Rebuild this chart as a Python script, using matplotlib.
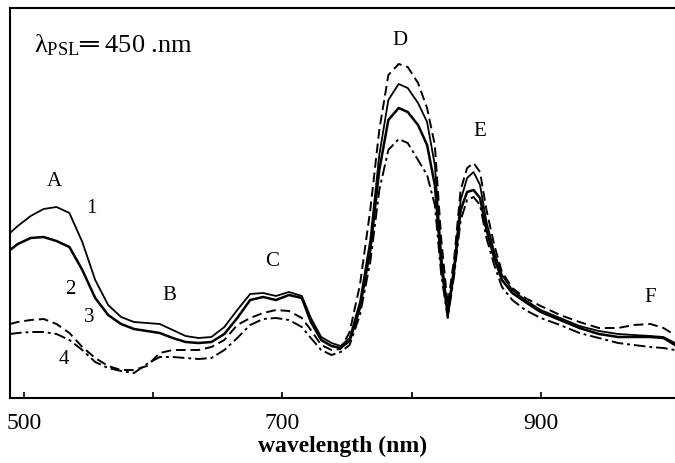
import matplotlib
matplotlib.use("Agg")
import matplotlib.pyplot as plt

plt.rcParams['font.family'] = ['Liberation Serif', 'DejaVu Serif']
plt.rcParams['mathtext.fontset'] = 'custom'
plt.rcParams['mathtext.rm'] = 'Liberation Serif'
plt.rcParams['mathtext.it'] = 'Liberation Serif:italic'

# wavelength grid (nm)
wavelength = [489, 495, 505, 515, 525, 535, 545, 555, 565, 575,
              585, 595, 605, 615, 625, 635, 645, 655, 665, 675,
              685, 695, 705, 715, 722, 730, 738, 745, 752, 760,
              768, 775, 782, 790, 797, 805, 812, 818, 823, 828,
              833, 838, 843, 848, 853, 858, 864, 870, 878, 888,
              900, 915, 930, 945, 960, 972, 985, 995, 1004]

# PSL intensity, arbitrary units
curve1 = [165, 172, 182, 189, 191, 185, 156, 118, 93, 81,
          76, 75, 74, 68, 62, 60, 61, 71, 88, 104,
          105, 102, 106, 102, 80, 61, 55, 52, 60, 96,
          158, 243, 298, 314, 310, 295, 276, 233, 143, 86,
          133, 198, 220, 226, 213, 176, 146, 123, 108, 98,
          88, 80, 72, 67, 64, 63, 62, 61, 55]
curve2 = [148, 154, 160, 161, 157, 151, 128, 100, 83, 74,
          69, 67, 65, 60, 56, 55, 56, 64, 80, 98,
          101, 98, 103, 100, 76, 58, 52, 50, 57, 90,
          148, 228, 278, 290, 286, 273, 253, 213, 133, 83,
          128, 188, 206, 208, 200, 168, 140, 118, 105, 96,
          86, 78, 70, 64, 61, 61, 61, 60, 53]
curve3 = [74, 76, 78, 79, 74, 65, 51, 40, 32, 28,
          28, 32, 45, 48, 48, 48, 51, 58, 73, 80,
          85, 88, 87, 80, 68, 53, 48, 49, 66, 113,
          188, 268, 323, 334, 331, 315, 290, 253, 158, 93,
          140, 208, 230, 235, 226, 188, 153, 126, 110, 100,
          92, 83, 76, 70, 70, 73, 74, 70, 63]
curve4 = [64, 65, 66, 66, 64, 58, 48, 36, 30, 27,
          25, 34, 41, 41, 40, 39, 40, 48, 60, 73,
          79, 80, 78, 71, 60, 48, 43, 46, 53, 83,
          136, 208, 248, 259, 255, 238, 223, 193, 123, 80,
          123, 178, 198, 201, 193, 160, 133, 111, 98, 88,
          80, 73, 65, 60, 55, 53, 51, 50, 48]

tick_pos = [500, 600, 700, 800, 900]
tick_labels = ['500', '', '700', '', '900']

peak_names = ['A', 'B', 'C', 'D', 'E', 'F']
peak_x = [523, 612, 692, 791, 853, 985]
peak_y = [216, 102, 136, 358, 267, 101]

curve_names = ['1', '2', '3', '4']
curve_x = [552, 536, 550, 531]
curve_y = [190, 108, 80, 38]

fig = plt.figure(figsize=(6.75, 4.63), dpi=100)
ax = fig.add_axes([10 / 675, 65 / 463, 665 / 675, 390 / 463])

ax.plot(wavelength, curve1, color='black', lw=1.3)
ax.plot(wavelength, curve2, color='black', lw=1.8)
ax.plot(wavelength, curve3, color='black', lw=1.4, dashes=(5, 2.5))
ax.plot(wavelength, curve4, color='black', lw=1.4, dashes=(6, 2, 1.5, 2))

for name, x, y in zip(peak_names, peak_x, peak_y):
    ax.text(x, y, name, fontsize=15, ha='center', va='center')
for name, x, y in zip(curve_names, curve_x, curve_y):
    ax.text(x, y, name, fontsize=15, ha='center', va='center')

ax.text(0.036, 0.905, r'λ$_{\mathrm{PSL}}$═ 450 .nm', transform=ax.transAxes,
        fontsize=19, ha='left', va='center')

ax.set_xlim(489, 1004)
ax.set_ylim(0, 390)
ax.set_xticks(tick_pos)
ax.set_xticklabels(tick_labels, fontsize=17)
ax.set_yticks([])
ax.tick_params(axis='x', direction='in', length=4, width=1.2, pad=11)
ax.spines['right'].set_visible(False)
for s in ['left', 'top', 'bottom']:
    ax.spines[s].set_linewidth(1.5)
ax.set_xlabel('wavelength (nm)', fontsize=17, fontweight='bold', labelpad=1)

fig.savefig('out.png', dpi=100)
